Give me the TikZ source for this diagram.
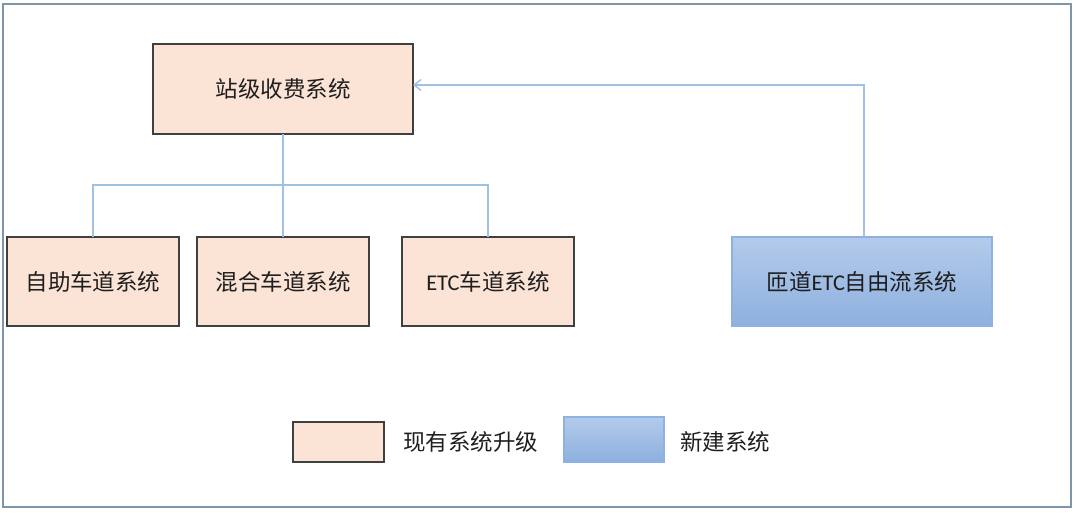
\documentclass[tikz,border=0pt]{standalone}
\usepackage{fontspec}
\setmainfont{Noto Sans CJK SC}
\newfontfamily\lat{Carlito}
\usetikzlibrary{arrows.meta}
\definecolor{peach}{HTML}{FBE3D6}
\definecolor{edge}{HTML}{404040}
\definecolor{link}{HTML}{9FC2E2}
\definecolor{frame}{HTML}{8095AA}
\definecolor{bluetop}{HTML}{B3CBEB}
\definecolor{bluebot}{HTML}{8DB0DE}
\definecolor{blueedge}{HTML}{8DB2DF}
\definecolor{txt}{HTML}{1E1E1E}
\tikzset{
  oldbox/.style={draw=edge, line width=1.1pt, fill=peach, inner sep=0pt, outer sep=0pt,
    text=txt, font=\fontsize{22.5}{27}\selectfont},
  newbox/.style={draw=blueedge, line width=1.1pt, top color=bluetop, bottom color=bluebot,
    inner sep=0pt, outer sep=0pt, text=txt, font=\fontsize{22.5}{27}\selectfont},
  link/.style={draw=link, line width=1.4pt},
  legtext/.style={anchor=west, inner sep=0pt, text=txt, font=\fontsize{22.5}{27}\selectfont}
}
\begin{document}
\begin{tikzpicture}[x=1pt,y=-1pt]
\useasboundingbox (0,0) rectangle (1080,517);
\draw[frame, line width=1.2pt] (3,4) rectangle (1071,507);
% boxes
\node[oldbox, minimum width=260pt, minimum height=90pt] (top) at (283,89) {站级收费系统};
\node[oldbox, minimum width=172pt, minimum height=89pt] (b1) at (93,281.5) {自助车道系统};
\node[oldbox, minimum width=172pt, minimum height=89pt] (b2) at (283,281.5) {混合车道系统};
\node[oldbox, minimum width=172pt, minimum height=89pt] (b3) at (488,281.5) {{\lat ETC}车道系统};
\node[newbox, minimum width=260pt, minimum height=89pt] (nb) at (862,281.5) {匝道{\lat ETC}自由流系统};
% connectors
\coordinate (j) at (283,185);
\draw[link] (top.south) -- (j);
\draw[link] (b1.north) |- (j) -| (b3.north);
\draw[link] (j) -- (b2.north);
\draw[link, -{Straight Barb[length=7pt,width=11pt]}] ([xshift=2pt]nb.north) |- ([yshift=4pt]top.east);
% legend
\node[oldbox, minimum width=91pt, minimum height=40pt] (l1) at (338.5,442) {};
\node[legtext] (t1) at (403,442) {现有系统升级};
\node[newbox, minimum width=100pt, minimum height=45pt] (l2) at (614,439.5) {};
\node[legtext] (t2) at (680,442) {新建系统};
\end{tikzpicture}
\end{document}
